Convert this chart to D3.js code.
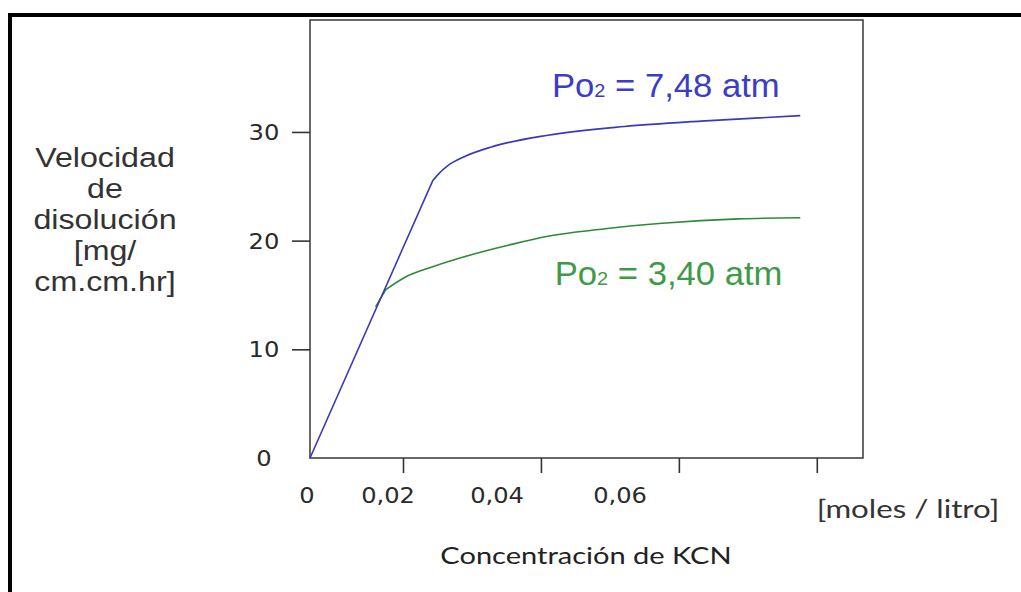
<!DOCTYPE html>
<html><head><meta charset="utf-8">
<script src="https://cdn.jsdelivr.net/npm/d3@7"></script>
<style>body{margin:0;background:#fff}svg{display:block}</style>
</head><body>
<svg id="c" width="1021" height="592"></svg>
<script>
// ---- data ----
const concBlue = [0, 0.0243, 0.0251, 0.0265, 0.0288, 0.0327, 0.0410, 0.0521, 0.0632, 0.0776];
const velBlue  = [0, 25.5, 26.1, 26.9, 27.7, 28.6, 29.7, 30.5, 31.0, 31.5];
const concGreen = [0.0141, 0.0163, 0.0205, 0.0243, 0.0299, 0.0354, 0.0410, 0.0493, 0.0576, 0.0687, 0.0776];
const velGreen  = [13.9, 15.5, 16.7, 17.6, 18.7, 19.6, 20.4, 21.1, 21.6, 22.0, 22.1];
const xTicks = [0.02, 0.04, 0.06, 0.08];
const xLabelValues = [0, 0.02, 0.04, 0.06];
const xLabelText = ["0", "0,02", "0,04", "0,06"];
const yTicks = [10, 20, 30];
const yLabelValues = [0, 10, 20, 30];
const yTitle = ["Velocidad", "de", "disolución", "[mg/", "cm.cm.hr]"];
const xTitle = "Concentración de KCN";
const xUnit = "[moles / litro]";
const seriesLabels = [
  {pre: "Po", sub: "2", post: " = 7,48 atm", cx: 0.0416, cy: 33.2, color: "#3c3cc6"},
  {pre: "Po", sub: "2", post: " = 3,40 atm", cx: 0.0420, cy: 15.9, color: "#3f9a48"}
];

// ---- layout ----
const svg = d3.select("#c");
const x = d3.scaleLinear().domain([0, 0.02, 0.0867]).range([310, 403, 863]);
const y = d3.scaleLinear().domain([0, 40.3]).range([458, 20]);
const xLab = d3.scaleLinear().domain([0, 0.02, 0.04, 0.06]).range([307, 388, 497, 620]);

function stretch(sel, cx, k) {
  sel.attr("transform", `translate(${cx},0) scale(${k},1) translate(${-cx},0)`);
}

// outer frame (top & left)
svg.append("path").attr("d", "M10,600V15H1030").attr("fill", "none")
  .attr("stroke", "#000").attr("stroke-width", 4);

// plot box
svg.append("rect").attr("x", x(0)).attr("y", y(40.3))
  .attr("width", x(0.0867) - x(0)).attr("height", y(0) - y(40.3))
  .attr("fill", "none").attr("stroke", "#444").attr("stroke-width", 1.6);

// axes ticks
const gx = svg.append("g").attr("transform", `translate(0,${y(0)})`)
  .call(d3.axisBottom(x).tickValues(xTicks).tickSize(15).tickFormat(""));
gx.select(".domain").remove();
gx.selectAll("line").attr("stroke", "#333").attr("stroke-width", 1.6);
const gy = svg.append("g").attr("transform", `translate(${x(0)},0)`)
  .call(d3.axisLeft(y).tickValues(yTicks).tickSize(18).tickFormat(""));
gy.select(".domain").remove();
gy.selectAll("line").attr("stroke", "#333").attr("stroke-width", 1.6);

// tick labels
svg.append("g").selectAll("text").data(yLabelValues).join("text")
  .attr("x", 264).attr("y", d => y(d)).attr("dy", "0.36em")
  .attr("text-anchor", "middle").attr("font-family", "DejaVu Sans")
  .attr("font-size", 22).attr("fill", "#2a2a2a").text(d => d)
  .each(function() { stretch(d3.select(this), 264, 1.1); });
svg.append("g").selectAll("text").data(xLabelValues).join("text")
  .attr("x", d => xLab(d)).attr("y", 503)
  .attr("text-anchor", "middle").attr("font-family", "DejaVu Sans")
  .attr("font-size", 21).attr("fill", "#2a2a2a")
  .text((d, i) => xLabelText[i])
  .each(function(d) { stretch(d3.select(this), xLab(d), 1.15); });

// axis titles
const tu = svg.append("text").attr("x", 908).attr("y", 518).attr("text-anchor", "middle")
  .attr("font-family", "Lato").attr("font-size", 25).attr("fill", "#333").text(xUnit);
stretch(tu, 908, 1.25);
const tt = svg.append("text").attr("x", 586).attr("y", 564).attr("text-anchor", "middle")
  .attr("font-family", "Lato").attr("font-size", 24).attr("fill", "#222").text(xTitle);
stretch(tt, 586, 1.21);
svg.append("g").selectAll("text").data(yTitle).join("text")
  .attr("x", 105).attr("y", (d, i) => 167 + i * 31).attr("text-anchor", "middle")
  .attr("font-family", "Liberation Sans").attr("font-size", 28).attr("fill", "#333")
  .text(d => d)
  .each(function() { stretch(d3.select(this), 105, 1.15); });

// curves: straight initial segment, smooth saturation afterwards
const straight = d3.line().x(d => x(d[0])).y(d => y(d[1]));
const smooth = d3.line().x(d => x(d[0])).y(d => y(d[1])).curve(d3.curveMonotoneX);
function drawSeries(conc, vel, color) {
  const pts = conc.map((c, i) => [c, vel[i]]);
  const d = straight(pts.slice(0, 2)) + smooth(pts.slice(1)).replace(/^M[^A-Za-z]*/, "");
  svg.append("path").attr("d", d).attr("fill", "none")
    .attr("stroke", color).attr("stroke-width", 1.6).attr("stroke-linejoin", "round");
}
drawSeries(concGreen, velGreen, "#2e8a38");
drawSeries(concBlue, velBlue, "#3a3ab8");

// series labels
seriesLabels.forEach(s => {
  const px = x(s.cx);
  const t = svg.append("text").attr("x", px).attr("y", y(s.cy))
    .attr("font-family", "Liberation Sans").attr("font-size", 33).attr("fill", s.color);
  t.append("tspan").text(s.pre);
  t.append("tspan").attr("font-size", 19).text(s.sub);
  t.append("tspan").text(s.post);
  stretch(t, px, 1.05);
});
</script>
</body></html>
